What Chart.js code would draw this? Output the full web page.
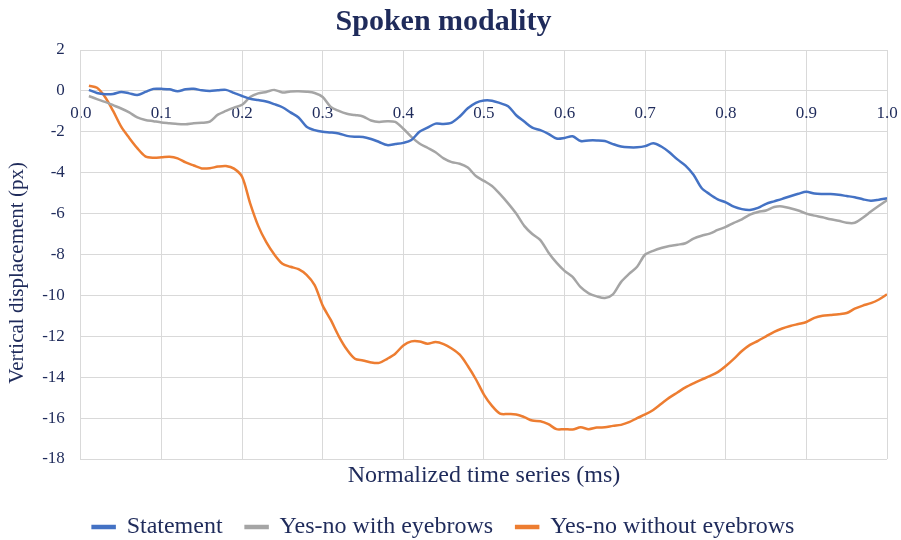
<!DOCTYPE html>
<html>
<head>
<meta charset="utf-8">
<script src="https://cdn.jsdelivr.net/npm/chart.js@4"></script>
<style>
  html, body { margin: 0; padding: 0; background: #ffffff; }
  #wrap { width: 901px; height: 540px; }
</style>
</head>
<body>
<div id="wrap"><canvas id="chart" width="901" height="540"></canvas></div>
<script>
// Normalized time points (shared by all three series)
const timePoints = [
  0.01, 0.02, 0.03, 0.04, 0.05, 0.06, 0.07, 0.08, 0.09, 0.10,
  0.11, 0.12, 0.13, 0.14, 0.15, 0.16, 0.17, 0.18, 0.19, 0.20,
  0.21, 0.22, 0.23, 0.24, 0.25, 0.26, 0.27, 0.28, 0.29, 0.30,
  0.31, 0.32, 0.33, 0.34, 0.35, 0.36, 0.37, 0.38, 0.39, 0.40,
  0.41, 0.42, 0.43, 0.44, 0.45, 0.46, 0.47, 0.48, 0.49, 0.50,
  0.51, 0.52, 0.53, 0.54, 0.55, 0.56, 0.57, 0.58, 0.59, 0.60,
  0.61, 0.62, 0.63, 0.64, 0.65, 0.66, 0.67, 0.68, 0.69, 0.70,
  0.71, 0.72, 0.73, 0.74, 0.75, 0.76, 0.77, 0.78, 0.79, 0.80,
  0.81, 0.82, 0.83, 0.84, 0.85, 0.86, 0.87, 0.88, 0.89, 0.90,
  0.91, 0.92, 0.93, 0.94, 0.95, 0.96, 0.97, 0.98, 0.99, 1.00
];

// Statement
const statement = [
  0.05, -0.10, -0.16, -0.15, -0.05, -0.12, -0.20, -0.05, 0.10, 0.10,
  0.08, -0.02, 0.08, 0.10, 0.03, 0.00, 0.03, 0.05, -0.10, -0.25,
  -0.38, -0.45, -0.52, -0.65, -0.80, -1.05, -1.30, -1.75, -1.92, -2.00,
  -2.03, -2.08, -2.20, -2.24, -2.25, -2.35, -2.50, -2.65, -2.60, -2.54,
  -2.40, -2.00, -1.80, -1.60, -1.62, -1.55, -1.25, -0.85, -0.58, -0.47,
  -0.48, -0.60, -0.75, -1.19, -1.50, -1.80, -1.92, -2.10, -2.33, -2.30,
  -2.22, -2.45, -2.42, -2.42, -2.45, -2.60, -2.72, -2.76, -2.76, -2.70,
  -2.56, -2.72, -3.00, -3.35, -3.65, -4.10, -4.75, -5.05, -5.30, -5.45,
  -5.66, -5.78, -5.82, -5.72, -5.52, -5.40, -5.28, -5.15, -5.03, -4.93,
  -5.02, -5.04, -5.04, -5.08, -5.14, -5.20, -5.30, -5.37, -5.32, -5.25
];

// Yes-no with eyebrows
const withEyebrows = [
  -0.25, -0.40, -0.54, -0.70, -0.86, -1.05, -1.30, -1.42, -1.48, -1.54,
  -1.58, -1.62, -1.63, -1.58, -1.56, -1.50, -1.16, -0.98, -0.82, -0.68,
  -0.30, -0.12, -0.05, 0.05, -0.08, -0.03, -0.02, -0.04, -0.10, -0.30,
  -0.78, -0.98, -1.12, -1.18, -1.25, -1.45, -1.52, -1.48, -1.52, -1.85,
  -2.25, -2.57, -2.78, -3.00, -3.30, -3.48, -3.56, -3.75, -4.16, -4.40,
  -4.65, -5.05, -5.50, -6.00, -6.60, -7.00, -7.30, -7.90, -8.40, -8.80,
  -9.10, -9.60, -9.90, -10.05, -10.13, -9.95, -9.35, -8.95, -8.60, -8.00,
  -7.82, -7.68, -7.58, -7.52, -7.45, -7.22, -7.08, -6.98, -6.80, -6.65,
  -6.45, -6.28, -6.05, -5.92, -5.85, -5.68, -5.65, -5.74, -5.85, -6.00,
  -6.10, -6.18, -6.28, -6.35, -6.45, -6.45, -6.20, -5.90, -5.62, -5.35
];

// Yes-no without eyebrows
const withoutEyebrows = [
  0.25, 0.15, -0.30, -0.98, -1.75, -2.30, -2.80, -3.20, -3.27, -3.25,
  -3.22, -3.30, -3.50, -3.65, -3.79, -3.78, -3.70, -3.67, -3.80, -4.20,
  -5.50, -6.60, -7.40, -8.00, -8.45, -8.60, -8.72, -9.00, -9.50, -10.50,
  -11.20, -12.00, -12.65, -13.10, -13.18, -13.28, -13.30, -13.10, -12.85, -12.45,
  -12.25, -12.25, -12.36, -12.28, -12.38, -12.60, -12.90, -13.45, -14.10, -14.85,
  -15.40, -15.78, -15.80, -15.82, -15.95, -16.12, -16.15, -16.30, -16.54, -16.54,
  -16.56, -16.45, -16.54, -16.46, -16.45, -16.38, -16.33, -16.20, -16.00, -15.82,
  -15.60, -15.30, -15.00, -14.75, -14.50, -14.30, -14.12, -13.95, -13.75, -13.45,
  -13.10, -12.72, -12.42, -12.22, -12.00, -11.78, -11.62, -11.50, -11.40, -11.30,
  -11.10, -11.00, -10.96, -10.92, -10.86, -10.65, -10.50, -10.38, -10.20, -9.95
];

const seriesNames = ['Statement', 'Yes-no with eyebrows', 'Yes-no without eyebrows'];
const seriesColors = ['#4472C4', '#A5A5A5', '#ED7D31'];

const navy = '#1F2B5B';
const gridColor = '#D9D9D9';
const serif = "'Liberation Serif', 'Times New Roman', serif";

function toPoints(values) {
    return values.map((v, i) => ({ x: timePoints[i], y: v }));
}

const allSeries = [statement, withEyebrows, withoutEyebrows];

const datasets = allSeries.map((values, i) => ({
    label: seriesNames[i],
    data: toPoints(values),
    borderColor: seriesColors[i],
    backgroundColor: seriesColors[i],
    borderWidth: 2.5,
    pointRadius: 0,
    tension: 0.3,
    xAxisID: 'x',
    yAxisID: 'y'
}));

const ctx = document.getElementById('chart').getContext('2d');
new Chart(ctx, {
    type: 'line',
    data: { datasets: datasets },
    options: {
        responsive: false,
        animation: false,
        layout: { padding: { left: 0, right: 14, top: 0, bottom: -9 } },
        scales: {
            // time axis drawn across the zero line
            x: {
                type: 'linear',
                position: { y: 0 },
                min: 0,
                max: 1,
                ticks: {
                    stepSize: 0.1,
                    color: navy,
                    padding: 0,
                    font: { family: serif, size: 17 },
                    callback: value => Number(value).toFixed(1)
                },
                // invisible tick marks just push the labels below the zero line
                grid: { color: gridColor, drawTicks: true, tickLength: 12, tickColor: 'rgba(0,0,0,0)' },
                border: { color: gridColor }
            },
            // empty bottom axis that only carries the axis title
            x2: {
                type: 'linear',
                position: 'bottom',
                min: 0,
                max: 1,
                ticks: { display: false },
                grid: { display: false, drawTicks: false },
                border: { display: false },
                title: {
                    display: true,
                    text: 'Normalized time series (ms)',
                    color: navy,
                    font: { family: serif, size: 24, lineHeight: 1 },
                    padding: { top: 5, bottom: 4 }
                }
            },
            y: {
                min: -18,
                max: 2,
                ticks: {
                    stepSize: 2,
                    color: navy,
                    padding: 0,
                    font: { family: serif, size: 17 }
                },
                grid: { color: gridColor, drawTicks: true, tickLength: 16, tickColor: 'rgba(0,0,0,0)' },
                border: { color: gridColor },
                title: {
                    display: true,
                    text: 'Vertical displacement (px)       ',
                    color: navy,
                    font: { family: serif, size: 21 },
                    padding: { top: 5, bottom: 12 }
                }
            }
        },
        plugins: {
            title: {
                display: true,
                text: 'Spoken modality',
                color: navy,
                font: { family: serif, size: 30, weight: 'bold' },
                padding: { top: 4, bottom: 10 }
            },
            legend: {
                position: 'bottom',
                labels: {
                    color: navy,
                    font: { family: serif, size: 24 },
                    boxWidth: 22,
                    boxHeight: 2,
                    padding: 23
                }
            },
            tooltip: { enabled: false }
        }
    }
});
</script>
</body>
</html>
